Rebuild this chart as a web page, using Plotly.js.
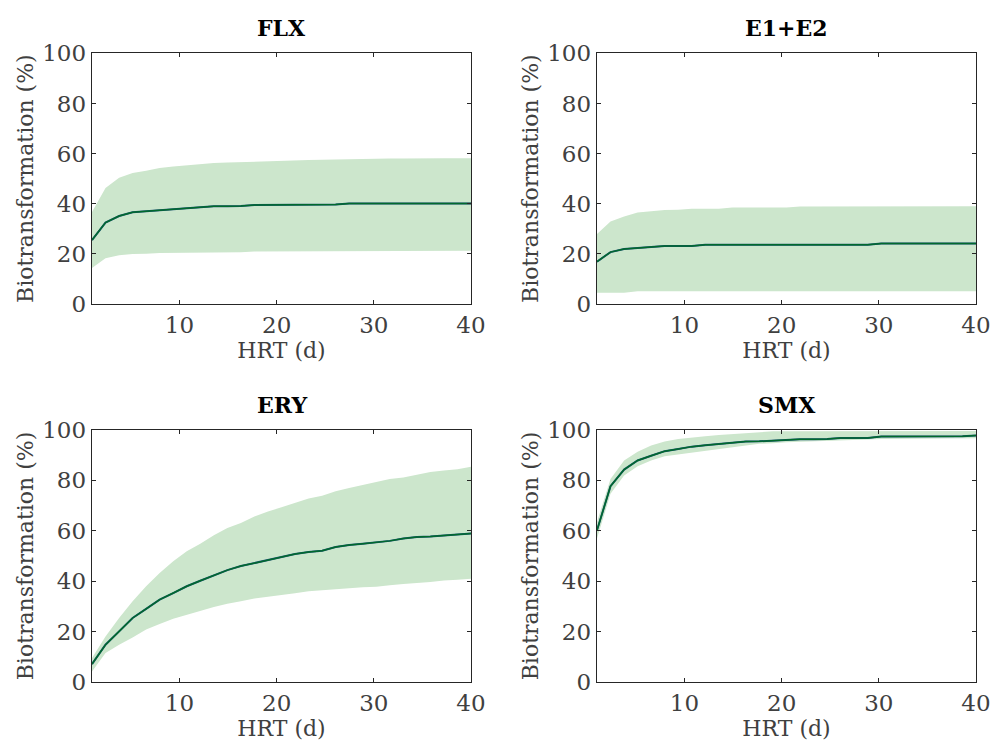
<!DOCTYPE html>
<html>
<head>
<meta charset="utf-8">
<script src="https://cdn.plot.ly/plotly-3.0.1.min.js"></script>
<style>html,body{margin:0;padding:0;background:#fff;}#chart{width:990px;height:745px;}</style>
</head>
<body>
<div id="chart"></div>
<script>
const hrt = [1, 2.39, 3.79, 5.18, 6.57, 7.96, 9.36, 10.75, 12.14, 13.54, 14.93, 16.32, 17.71, 19.11, 20.5, 21.89, 23.29, 24.68, 26.07, 27.46, 28.86, 30.25, 31.64, 33.04, 34.43, 35.82, 37.21, 38.61, 40];

const flxMid = [25.5, 32.5, 35.1, 36.6, 37.0, 37.4, 37.9, 38.4, 38.5, 39.0, 39.0, 39.1, 39.5, 39.5, 39.5, 39.5, 39.5, 39.5, 39.7, 40.1, 40.1, 40.1, 40.1, 40.1, 40.1, 40.1, 40.1, 40.1, 40.1];
const flxUp  = [36.7, 46.3, 50.4, 52.3, 53.2, 54.2, 54.8, 55.3, 55.8, 56.2, 56.4, 56.6, 56.8, 56.9, 57.1, 57.3, 57.4, 57.5, 57.6, 57.8, 58.0, 58.0, 58.0, 58.0, 58.1, 58.1, 58.1, 58.1, 58.1];
const flxLo  = [14.4, 18.2, 19.4, 19.9, 20.0, 20.3, 20.5, 20.5, 20.6, 20.6, 20.6, 20.6, 20.9, 21.0, 21.0, 21.0, 21.0, 21.1, 21.1, 21.1, 21.2, 21.2, 21.2, 21.2, 21.2, 21.2, 21.2, 21.2, 21.2];

const eMid = [16.9, 20.7, 21.9, 22.3, 22.7, 23.1, 23.1, 23.1, 23.6, 23.6, 23.6, 23.6, 23.6, 23.6, 23.6, 23.6, 23.6, 23.6, 23.6, 23.6, 23.6, 24.1, 24.1, 24.1, 24.1, 24.1, 24.1, 24.1, 24.1];
const eUp  = [27.9, 32.9, 34.9, 36.5, 37.0, 37.5, 37.6, 38.0, 38.0, 38.0, 38.5, 38.5, 38.5, 38.5, 38.5, 38.9, 38.9, 38.9, 38.9, 38.9, 39.0, 39.0, 39.0, 39.0, 39.0, 39.0, 39.0, 39.0, 39.0];
const eLo  = [4.5, 4.5, 4.5, 5.1, 5.1, 5.1, 5.1, 5.1, 5.1, 5.1, 5.1, 5.1, 5.1, 5.1, 5.1, 5.1, 5.1, 5.1, 5.1, 5.1, 5.1, 5.1, 5.1, 5.1, 5.1, 5.1, 5.1, 5.1, 5.1];

const eryMid = [7.1, 14.8, 20.1, 25.4, 29.0, 32.7, 35.3, 38.0, 40.2, 42.3, 44.4, 46.0, 47.2, 48.5, 49.9, 50.8, 51.6, 52.1, 53.6, 54.4, 54.9, 55.4, 56.0, 56.9, 57.5, 57.7, 58.1, 58.5, 58.9];
const eryUp  = [9.5, 18.1, 25.4, 32.0, 38.0, 43.3, 47.9, 51.9, 54.9, 58.2, 61.1, 63.1, 65.7, 67.7, 69.3, 71.0, 72.8, 73.9, 75.7, 77.0, 78.3, 79.4, 80.6, 81.2, 82.3, 83.3, 83.9, 84.4, 85.4];
const eryLo  = [4.2, 11.5, 14.8, 17.7, 20.8, 23.0, 25.1, 26.7, 28.3, 29.8, 31.1, 32.0, 33.1, 34.0, 34.5, 35.2, 36.0, 36.4, 36.8, 37.3, 37.6, 37.8, 38.4, 38.9, 39.4, 39.7, 40.3, 40.6, 41.0];

const smxMid = [60.2, 77.7, 84.3, 87.9, 89.8, 91.6, 92.5, 93.4, 93.9, 94.5, 95.0, 95.4, 95.5, 95.8, 95.9, 96.3, 96.3, 96.4, 96.8, 96.8, 96.8, 97.4, 97.4, 97.4, 97.4, 97.4, 97.4, 97.5, 97.8];
const smxUp  = [63.5, 80.6, 87.9, 91.4, 93.8, 95.4, 96.4, 97.1, 97.5, 98.0, 98.4, 98.8, 99.3, 99.5, 99.5, 99.5, 99.5, 99.5, 99.5, 99.5, 99.5, 99.5, 99.5, 99.5, 99.5, 99.5, 99.5, 99.6, 99.6];
const smxLo  = [56.9, 74.7, 81.9, 85.6, 87.9, 89.6, 90.5, 91.2, 91.8, 92.5, 93.1, 93.8, 94.5, 94.7, 95.1, 95.4, 95.5, 95.6, 95.9, 96.0, 96.2, 96.4, 96.6, 96.6, 96.6, 96.6, 96.6, 96.7, 96.7];

const panelTitles = ["FLX", "E1+E2", "ERY", "SMX"];
const xTickVals = [10, 20, 30, 40];
const yTickVals = [0, 20, 40, 60, 80, 100];
const xLabel = "HRT (d)";
const yLabel = "Biotransformation (%)";

const panels = [
  {mid: flxMid, up: flxUp, lo: flxLo},
  {mid: eMid, up: eUp, lo: eLo},
  {mid: eryMid, up: eryUp, lo: eryLo},
  {mid: smxMid, up: smxUp, lo: smxLo}
];

const W = 990, H = 745;
const xDom = [[92/W, 471/W], [597/W, 976/W]];
const yDom = [[1-304/H, 1-53.3/H], [1-682/H, 1-430/H]];

const FONT = "DejaVu Serif";
const traces = [];
const layout = {
  width: W, height: H,
  margin: {l: 0, r: 0, t: 0, b: 0},
  paper_bgcolor: "#fff", plot_bgcolor: "#fff",
  showlegend: false,
  font: {family: FONT, size: 20, color: "#404040"},
  annotations: []
};

panels.forEach((p, i) => {
  const n = i + 1;
  const xa = n === 1 ? "x" : "x" + n;
  const ya = n === 1 ? "y" : "y" + n;
  const col = i % 2, row = Math.floor(i / 2);
  traces.push({
    x: hrt.concat(hrt.slice().reverse()),
    y: p.up.concat(p.lo.slice().reverse()),
    xaxis: xa, yaxis: ya, type: "scatter", mode: "lines",
    fill: "toself", fillcolor: "rgb(204,230,204)",
    line: {width: 0, color: "rgba(0,0,0,0)"}, hoverinfo: "skip"
  });
  traces.push({
    x: hrt, y: p.mid, xaxis: xa, yaxis: ya, type: "scatter", mode: "lines",
    line: {color: "#1d4f7a", width: 2.0}
  });
  traces.push({
    x: hrt, y: p.mid, xaxis: xa, yaxis: ya, type: "scatter", mode: "lines",
    line: {color: "#006a2c", width: 1.5}
  });
  const axBase = {
    showgrid: false, zeroline: false, showline: true, mirror: "ticks",
    linecolor: "#262626", linewidth: 1.3,
    ticks: "inside", ticklen: 4, tickwidth: 1, tickcolor: "#262626",
    ticklabeloverflow: "allow",
    tickfont: {family: FONT, size: 23, color: "#404040"}
  };
  layout["xaxis" + (n === 1 ? "" : n)] = Object.assign({}, axBase, {
    domain: xDom[col], anchor: ya, range: [1, 40],
    tickvals: xTickVals, ticktext: xTickVals.map(String),
    title: {text: xLabel, font: {family: FONT, size: 22, color: "#404040"}, standoff: 0}
  });
  layout["yaxis" + (n === 1 ? "" : n)] = Object.assign({}, axBase, {
    domain: yDom[row], anchor: xa, range: [0, 100],
    tickvals: yTickVals, ticktext: yTickVals.map(String),
    title: {text: yLabel, font: {family: FONT, size: 22, color: "#404040"}, standoff: 2}
  });
  layout.annotations.push({
    text: "<b>" + panelTitles[i] + "</b>", xref: "paper", yref: "paper",
    x: (xDom[col][0] + xDom[col][1]) / 2, y: yDom[row][1],
    xanchor: "center", yanchor: "bottom", yshift: 10, showarrow: false,
    font: {family: FONT, size: 22, color: "#000"}
  });
});

Plotly.newPlot("chart", traces, layout, {staticPlot: true});
</script>
</body>
</html>
